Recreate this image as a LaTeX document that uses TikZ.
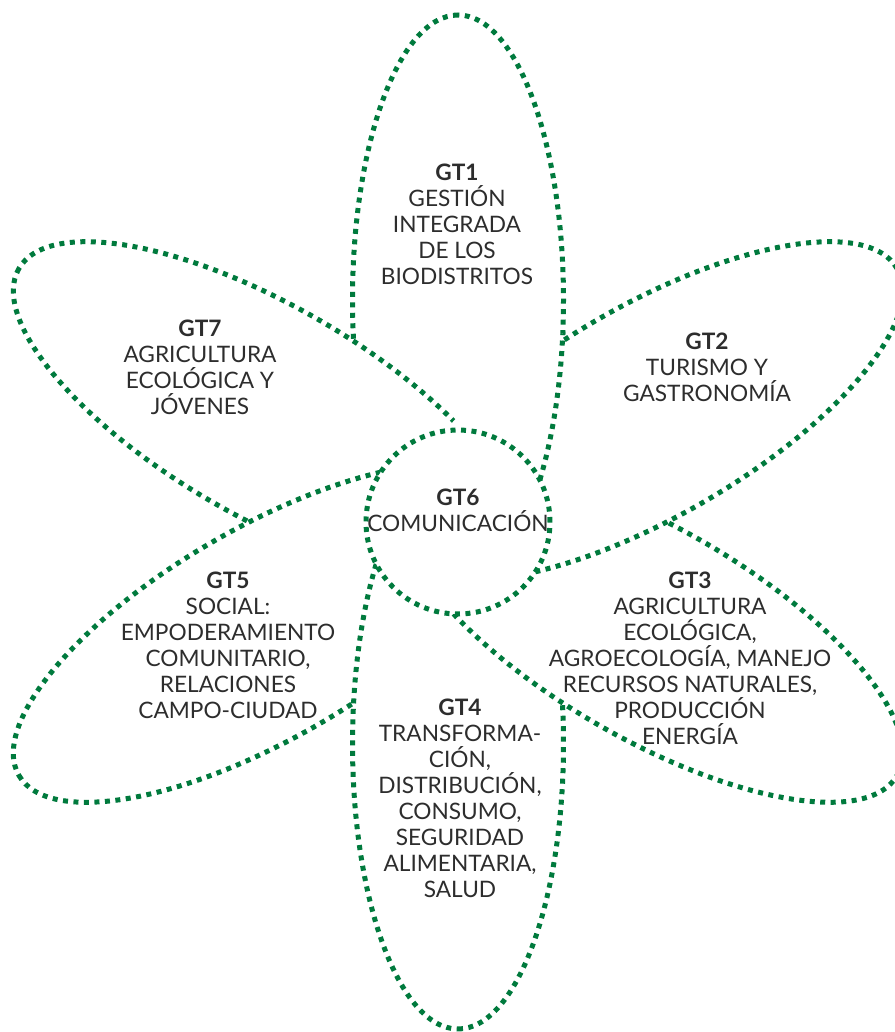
\documentclass[tikz,border=0pt]{standalone}
\usepackage{fontspec}
\setmainfont{Lato}
\definecolor{verde}{RGB}{0,122,61}
\definecolor{texto}{RGB}{45,45,45}
\tikzset{
    petalo/.style={draw=verde, fill=white, line width=0.1cm, dash pattern=on 0.1cm off 0.11cm},
    nucleo/.style={petalo, circle, minimum size=3.68cm, inner sep=0pt},
    grupo/.style={align=center, text=texto, font=\fontsize{12.9}{14.8}\selectfont}
}
\begin{document}
\begin{tikzpicture}[x=0.02cm, y=0.02cm]
    \useasboundingbox (0,0) rectangle (894,1032);
    \coordinate (centro) at (458,510);
    % Petalos, cada uno encima del anterior
    \foreach \a in {90,150,-150,-90,-30,30}
        \draw[petalo] (centro) ++(\a:222) circle [x radius=285, y radius=105.5, rotate=\a];
    % GT1 vuelve encima de GT2
    \begin{scope}
        \clip (centro) ++(30:222) circle [x radius=292, y radius=112, rotate=30];
        \draw[petalo] (centro) ++(90:222) circle [x radius=285, y radius=105.5, rotate=90];
    \end{scope}
    % Centro
    \node[nucleo] (circulo) at (centro) {};
    % Grupos de trabajo
    \node[grupo] (gt1) at (457,808) {\textbf{GT1}\\GESTIÓN\\INTEGRADA\\DE LOS\\BIODISTRITOS};
    \node[grupo] (gt2) at (707,665) {\textbf{GT2}\\TURISMO Y\\GASTRONOMÍA};
    \node[grupo] (gt3) at (690,374) {\textbf{GT3}\\AGRICULTURA\\ECOLÓGICA,\\AGROECOLOGÍA, MANEJO\\RECURSOS NATURALES,\\PRODUCCIÓN\\ENERGÍA};
    \node[grupo] (gt4) at (460,234) {\textbf{GT4}\\TRANSFORMA-\\CIÓN,\\DISTRIBUCIÓN,\\CONSUMO,\\SEGURIDAD\\ALIMENTARIA,\\SALUD};
    \node[grupo] (gt5) at (228,387) {\textbf{GT5}\\SOCIAL:\\EMPODERAMIENTO\\COMUNITARIO,\\RELACIONES\\CAMPO-CIUDAD};
    \node[grupo] (gt6) at (458,522) {\textbf{GT6}\\COMUNICACIÓN};
    \node[grupo] (gt7) at (200,665) {\textbf{GT7}\\AGRICULTURA\\ECOLÓGICA Y\\JÓVENES};
\end{tikzpicture}
\end{document}
